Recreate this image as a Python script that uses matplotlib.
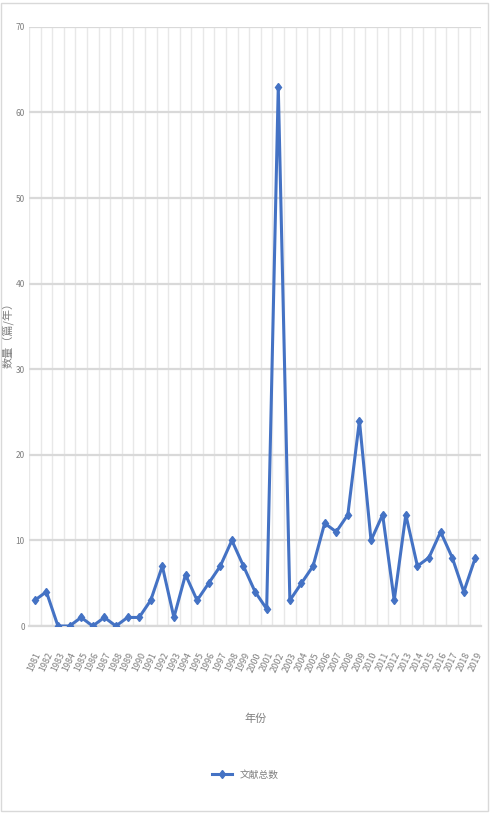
import matplotlib.pyplot as plt
import numpy as np

plt.rcParams['font.family'] = ['Noto Sans CJK SC', 'DejaVu Sans']

# 数据
years = [str(y) for y in range(1981, 2020)]
counts = [3, 4, 0, 0, 1, 0, 1, 0, 1, 1,
          3, 7, 1, 6, 3, 5, 7, 10, 7, 4,
          2, 63, 3, 5, 7, 12, 11, 13, 24, 10,
          13, 3, 13, 7, 8, 11, 8, 4, 8]
y_ticks = list(range(0, 71, 10))

line_color = '#4472C4'
grid_color = '#d9d9d9'
text_color = '#7f7f7f'

fig = plt.figure(figsize=(4.91, 8.13), dpi=100)
fig.patch.set_facecolor('white')

# 外框
fig.add_artist(plt.Rectangle((0.002, 0.002), 0.992, 0.994, transform=fig.transFigure,
                             fill=False, edgecolor='#d9d9d9', linewidth=1))

ax = fig.add_axes([0.059, 0.23, 0.921, 0.737])
x = np.arange(len(years))
ax.plot(x, counts, color=line_color, linewidth=2.2, marker='d', markersize=4.5,
        markeredgecolor=line_color, markerfacecolor=line_color, label='文献总数', zorder=3)

ax.set_xlim(-0.5, len(years) - 0.5)
ax.set_ylim(0, 70)
ax.set_yticks(y_ticks)
ax.set_yticklabels([str(v) for v in y_ticks], fontsize=6, color=text_color)
ax.set_xticks(x)
ax.set_xticklabels(years, rotation=65, fontsize=6.5, color=text_color, ha='right', rotation_mode='anchor')
ax.set_xticks(np.arange(-0.5, len(years), 1), minor=True)

ax.grid(axis='y', color=grid_color, linewidth=1.6)
ax.grid(axis='x', which='minor', color='#e8e8e8', linewidth=1)
ax.tick_params(axis='both', which='both', length=0)
ax.tick_params(axis='x', pad=18)
ax.tick_params(axis='y', pad=3)
ax.set_axisbelow(True)
for s in ax.spines.values():
    s.set_visible(False)
ax.spines['bottom'].set_visible(True)
ax.spines['bottom'].set_color(grid_color)
ax.spines['bottom'].set_linewidth(1.6)

ax.set_xlabel('年份', fontsize=8, color=text_color)
ax.xaxis.set_label_coords(0.5, -0.146)
ax.set_ylabel('数量（篇/年）', fontsize=8, color=text_color)
ax.yaxis.set_label_coords(-0.031, 0.49)

fig.legend(loc='center', bbox_to_anchor=(0.5, 0.047), frameon=False, fontsize=7,
           labelcolor=text_color, handlelength=2)

plt.savefig('out.png', dpi=100)
